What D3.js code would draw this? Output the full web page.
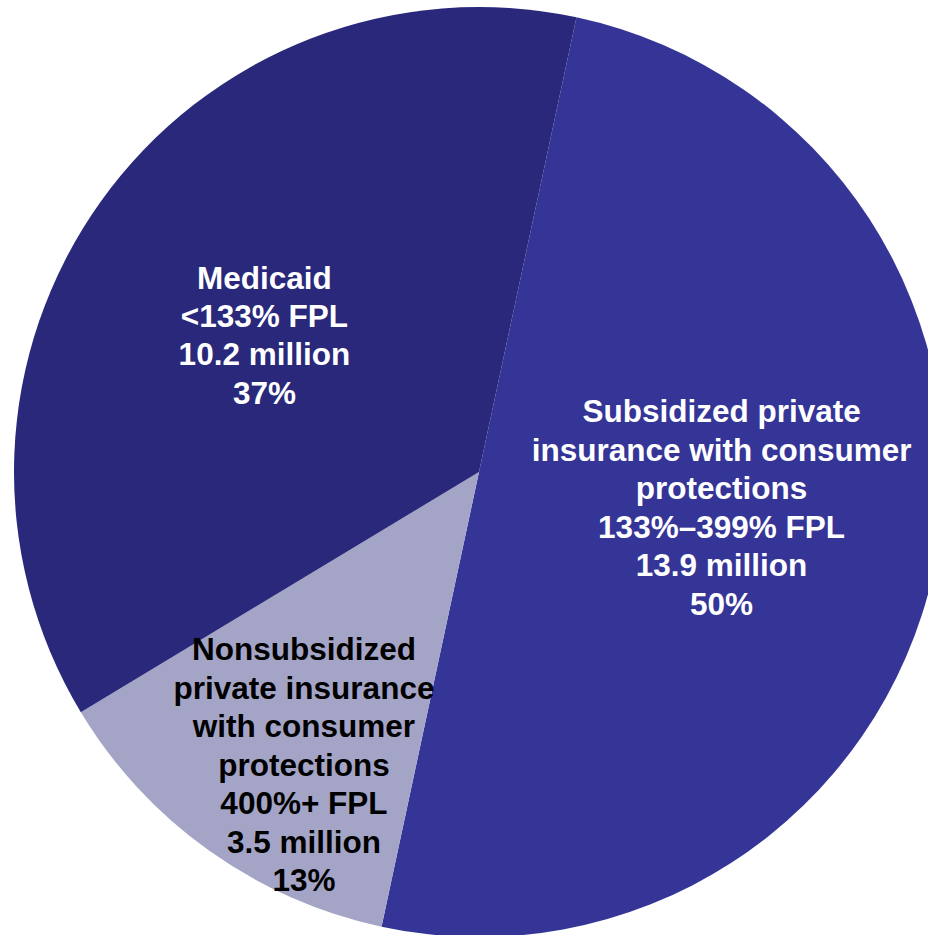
<!DOCTYPE html>
<html>
<head>
  <meta charset="utf-8">
  <title>Coverage by income group</title>
  <script src="https://d3js.org/d3.v7.min.js"></script>
  <style>
    body {
      margin: 0;
      background: #fff;
      font-family: "Liberation Sans", Arial, sans-serif;
    }
    .label {
      font-weight: bold;
      font-size: 31.5px;
    }
  </style>
</head>
<body>
  <div id="chart"></div>
  <script>
    // slices, clockwise from the top boundary
    const names = ["Subsidized", "Nonsubsidized", "Medicaid"];
    const millions = [13.9, 3.5, 10.2];
    const percents = [50, 13, 37];
    const labelLines = [
      ["Subsidized private", "insurance with consumer", "protections", "133%\u2013399% FPL", "13.9 million", "50%"],
      ["Nonsubsidized", "private insurance", "with consumer", "protections", "400%+ FPL", "3.5 million", "13%"],
      ["Medicaid", "<133% FPL", "10.2 million", "37%"]
    ];
    const fills = ["#353597", "#a4a5c6", "#29287b"];
    const textColors = ["#fff", "#000", "#fff"];

    const width = 928;
    const height = 935;
    const cx = 479;
    const cy = 472;
    const radius = 465;
    const lineHeight = 38.5;
    const start = 12.1 * Math.PI / 180;

    // label anchor: radius along the mid angle plus a small nudge
    const labelR = [245, 341, 255];
    const nudge = [[3, -16], [23, 15], [-7, 11]];

    const data = names.map((n, i) => ({ name: n, value: percents[i], millions: millions[i], i: i }));

    const pie = d3.pie()
      .sort(null)
      .value(d => d.value)
      .startAngle(start)
      .endAngle(start + 2 * Math.PI);

    const arc = d3.arc().innerRadius(0).outerRadius(radius);

    const svg = d3.select("#chart")
      .append("svg")
      .attr("width", width)
      .attr("height", height);

    const g = svg.append("g")
      .attr("transform", `translate(${cx},${cy})`);

    const arcs = pie(data);

    g.selectAll("path.slice")
      .data(arcs)
      .enter()
      .append("path")
      .attr("class", "slice")
      .attr("d", arc)
      .attr("fill", d => fills[d.data.i]);

    const labels = g.selectAll("text.label")
      .data(arcs)
      .enter()
      .append("text")
      .attr("class", "label")
      .attr("text-anchor", "middle")
      .attr("fill", d => textColors[d.data.i])
      .attr("transform", d => {
        const i = d.data.i;
        const la = d3.arc().innerRadius(labelR[i]).outerRadius(labelR[i]);
        const [x, y] = la.centroid(d);
        const lines = labelLines[i].length;
        const top = y + nudge[i][1] - (lines - 1) / 2 * lineHeight;
        return `translate(${x + nudge[i][0]},${top})`;
      });

    labels.selectAll("tspan")
      .data(d => labelLines[d.data.i])
      .enter()
      .append("tspan")
      .attr("x", 0)
      .attr("y", (t, j) => j * lineHeight)
      .attr("dy", "0.36em")
      .text(t => t);
  </script>
</body>
</html>
